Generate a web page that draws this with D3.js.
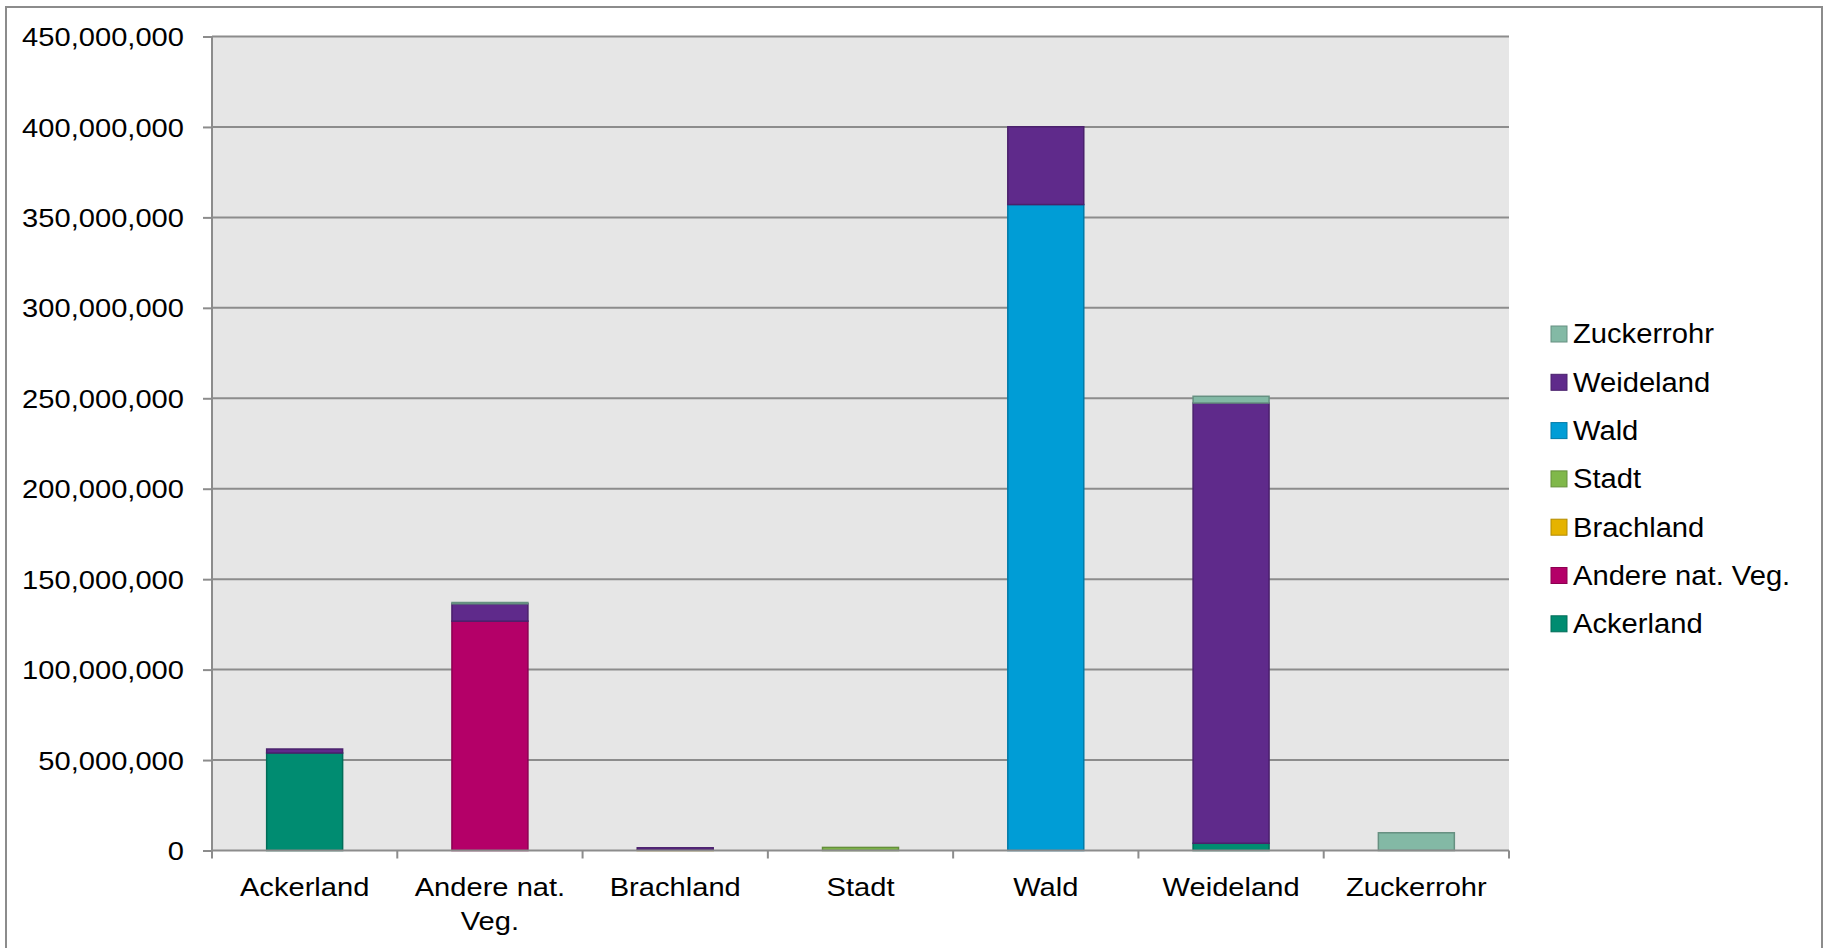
<!DOCTYPE html>
<html lang="de">
<head>
<meta charset="utf-8">
<title>Flächennutzung</title>
<script src="https://cdn.jsdelivr.net/npm/d3@7"></script>
<style>
  body { margin: 0; background: #fff; }
  svg text { font-family: "Liberation Sans", Arial, sans-serif; fill: #000; }
  .grid line { stroke: #8c8c8c; stroke-width: 2; }
  .axis path, .axis line { stroke: #8c8c8c; stroke-width: 2; fill: none; }
</style>
</head>
<body>
<script>
// categories on the x axis
var categories = ["Ackerland", "Andere nat. Veg.", "Brachland", "Stadt", "Wald", "Weideland", "Zuckerrohr"];
// stacked series (bottom to top)
var seriesNames = ["Ackerland", "Andere nat. Veg.", "Brachland", "Stadt", "Wald", "Weideland", "Zuckerrohr"];
var seriesColors = ["#008c71", "#b40068", "#e5b300", "#80b84a", "#009dd6", "#5f2a8b", "#83b9a5"];
// values per series, one per category
var ackerland  = [53900000, 0, 0, 0, 0, 4000000, 0];
var andere     = [0, 126800000, 0, 0, 0, 0, 0];
var brachland  = [0, 0, 300000, 0, 0, 0, 0];
var stadt      = [0, 0, 0, 1700000, 0, 0, 0];
var wald       = [0, 0, 0, 0, 357100000, 0, 0];
var weideland  = [2200000, 9600000, 1200000, 0, 43000000, 243400000, 0];
var zuckerrohr = [0, 700000, 0, 0, 0, 3700000, 9800000];
var seriesValues = [ackerland, andere, brachland, stadt, wald, weideland, zuckerrohr];
var yTicks = [0, 50000000, 100000000, 150000000, 200000000, 250000000, 300000000, 350000000, 400000000, 450000000];

var w = 1825, h = 948;
var plotLeft = 212, plotRight = 1509, plotTop = 36.5, plotBottom = 850.5;
var sx = 1.12; // glyphs in the picture are a little wide

// build rows for d3.stack
var rows = categories.map(function(c, i) {
  var r = { cat: c };
  seriesNames.forEach(function(s, j) { r[s] = seriesValues[j][i]; });
  return r;
});
var stacked = d3.stack().keys(seriesNames)(rows);

var xScale = d3.scaleBand().domain(categories).range([plotLeft, plotRight]);
var yScale = d3.scaleLinear().domain([0, 450000000]).range([plotBottom, plotTop]);
var color = d3.scaleOrdinal().domain(seriesNames).range(seriesColors);

var svg = d3.select("body").append("svg").attr("width", w).attr("height", h);

// outer frame
svg.append("rect")
  .attr("x", 6).attr("y", 7).attr("width", 1816).attr("height", 960)
  .attr("fill", "none").attr("stroke", "#8c8c8c").attr("stroke-width", 2);

// plot background
svg.append("rect")
  .attr("x", plotLeft).attr("y", plotTop).attr("width", plotRight - plotLeft).attr("height", plotBottom - plotTop)
  .attr("fill", "#e6e6e6");

// gridlines
svg.append("g").attr("class", "grid")
  .selectAll("line").data(yTicks.filter(function(d) { return d > 0; })).enter()
  .append("line")
  .attr("x1", plotLeft).attr("x2", plotRight)
  .attr("y1", function(d) { return yScale(d); })
  .attr("y2", function(d) { return yScale(d); });

// bars
var bw = xScale.bandwidth() * 0.41;
svg.append("g").selectAll("g").data(stacked).enter()
  .append("g")
  .attr("fill", function(d) { return color(d.key); })
  .attr("stroke", function(d) { return d3.color(color(d.key)).darker(0.7); })
  .attr("stroke-width", 1.5)
  .selectAll("rect")
  .data(function(d) { return d.filter(function(p) { return p[1] - p[0] > 0; }); })
  .enter().append("rect")
  .attr("x", function(d) { return xScale(d.data.cat) + (xScale.bandwidth() - bw) / 2; })
  .attr("width", bw)
  .attr("y", function(d) { return yScale(d[1]); })
  .attr("height", function(d) { return yScale(d[0]) - yScale(d[1]); });

// y axis
var yAxis = d3.axisLeft(yScale).tickValues(yTicks).tickSize(9).tickFormat(d3.format(","));
var gy = svg.append("g").attr("class", "axis")
  .attr("transform", "translate(" + plotLeft + ",0)")
  .call(yAxis);
gy.select(".domain").attr("d", "M0," + plotTop + "V" + plotBottom);
gy.selectAll(".tick text").remove();
gy.selectAll(".tick").append("g")
  .attr("transform", "translate(-28,0) scale(" + sx + ",1)")
  .append("text")
  .attr("text-anchor", "end")
  .attr("dy", "0.35em")
  .style("font-size", "26px")
  .text(function(d) { return d3.format(",")(d); });

// x axis: ticks at category boundaries
var gx = svg.append("g").attr("class", "axis");
gx.append("line").attr("x1", plotLeft).attr("x2", plotRight).attr("y1", plotBottom).attr("y2", plotBottom);
var bounds = categories.map(function(c) { return xScale(c); }).concat([plotRight]);
gx.selectAll(".xt").data(bounds).enter().append("line")
  .attr("x1", function(d) { return d; }).attr("x2", function(d) { return d; })
  .attr("y1", plotBottom).attr("y2", plotBottom + 8);

var labels = svg.append("g").selectAll("g").data(categories).enter()
  .append("g")
  .attr("transform", function(d) {
    return "translate(" + (xScale(d) + xScale.bandwidth() / 2) + "," + (plotBottom + 45) + ") scale(" + sx + ",1)";
  })
  .append("text")
  .attr("text-anchor", "middle")
  .style("font-size", "26px");

// simple word wrap inside the band
labels.each(function(d) {
  var t = d3.select(this);
  var words = d.split(" ");
  var maxW = xScale.bandwidth() / sx - 8;
  var line = [];
  var ts = t.append("tspan").attr("x", 0).attr("dy", 0);
  words.forEach(function(word) {
    line.push(word);
    ts.text(line.join(" "));
    if (ts.node().getComputedTextLength() > maxW && line.length > 1) {
      line.pop();
      ts.text(line.join(" "));
      line = [word];
      ts = t.append("tspan").attr("x", 0).attr("dy", "1.33em").text(word);
    }
  });
});

// legend (top entry = last series)
var legend = svg.append("g").selectAll("g").data(seriesNames.slice().reverse()).enter()
  .append("g")
  .attr("transform", function(d, i) { return "translate(1551," + (334 + i * 48.3) + ")"; });
legend.append("rect")
  .attr("x", 0).attr("y", -8).attr("width", 16).attr("height", 16)
  .attr("fill", function(d) { return color(d); })
  .attr("stroke", function(d) { return d3.color(color(d)).darker(0.7); })
  .attr("stroke-width", 1);
legend.append("g")
  .attr("transform", "translate(22,0) scale(1.08,1)")
  .append("text")
  .attr("dy", "0.35em")
  .style("font-size", "27px")
  .text(function(d) { return d; });
</script>
</body>
</html>
